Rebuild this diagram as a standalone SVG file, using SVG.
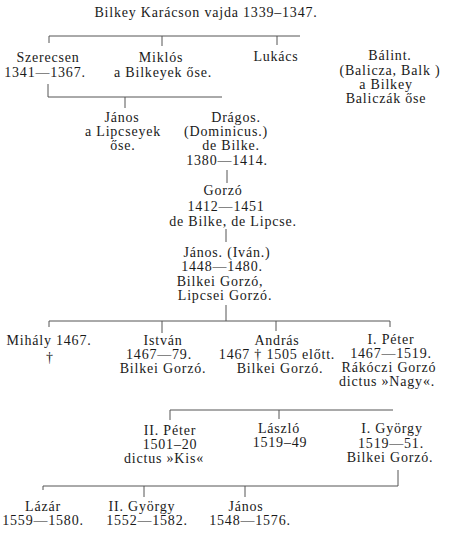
<svg xmlns="http://www.w3.org/2000/svg" width="453" height="538" viewBox="0 0 453 538">
<style>
text{font-family:"Liberation Serif","DejaVu Serif",serif;font-size:14px;letter-spacing:0.8px;fill:#1a1a1a;text-anchor:middle}
.c line{stroke:#555;stroke-width:1}
</style>
<rect width="453" height="538" fill="#fff"/>
<g class="c" id="connectors">
<line x1="49" y1="36" x2="300" y2="36"/>
<line x1="49" y1="36" x2="49" y2="43"/>
<line x1="162" y1="36" x2="162" y2="46"/>
<line x1="277" y1="36" x2="277" y2="45"/>
<line x1="48" y1="84" x2="48" y2="97"/>
<line x1="48" y1="97" x2="222" y2="97"/>
<line x1="125" y1="97" x2="125" y2="108"/>
<line x1="227" y1="170" x2="227" y2="183"/>
<line x1="226" y1="229" x2="226" y2="242"/>
<line x1="226" y1="305" x2="226" y2="321"/>
<line x1="49" y1="321" x2="390" y2="321"/>
<line x1="49" y1="321" x2="49" y2="327"/>
<line x1="162" y1="321" x2="162" y2="333"/>
<line x1="276" y1="321" x2="276" y2="331"/>
<line x1="390" y1="321" x2="390" y2="327"/>
<line x1="170" y1="410" x2="393" y2="410"/>
<line x1="170" y1="410" x2="170" y2="420"/>
<line x1="279" y1="410" x2="279" y2="419"/>
<line x1="398" y1="470" x2="398" y2="486"/>
<line x1="43" y1="486" x2="398" y2="486"/>
<line x1="43" y1="486" x2="43" y2="490"/>
<line x1="144" y1="486" x2="144" y2="497"/>
<line x1="245" y1="486" x2="245" y2="497"/>
</g>
<g id="karacson"><text x="206" y="17">Bilkey Karácson vajda 1339–1347.</text></g>
<g id="szerecsen"><text x="48" y="62">Szerecsen</text><text x="45" y="77">1341—1367.</text></g>
<g id="miklos"><text x="161" y="62">Miklós</text><text x="163" y="77">a Bilkeyek őse.</text></g>
<g id="lukacs"><text x="276" y="61">Lukács</text></g>
<g id="balint"><text x="390" y="60">Bálint.</text><text x="390" y="75">(Balicza, Balk )</text><text x="386" y="89">a Bilkey</text><text x="386" y="103">Baliczák őse</text></g>
<g id="janos1"><text x="122" y="122">János</text><text x="123" y="136">a Lipcseyek</text><text x="123" y="150">őse.</text></g>
<g id="dragos"><text x="236" y="122">Drágos.</text><text x="226" y="136">(Dominicus.)</text><text x="231" y="150">de Bilke.</text><text x="227" y="165">1380—1414.</text></g>
<g id="gorzo"><text x="223" y="195">Gorzó</text><text x="226" y="211">1412—1451</text><text x="233" y="226">de Bilke, de Lipcse.</text></g>
<g id="janos2"><text x="227" y="257">János. (Iván.)</text><text x="222" y="271">1448—1480.</text><text x="220" y="286">Bilkei Gorzó,</text><text x="225" y="300">Lipcsei Gorzó.</text></g>
<g id="mihaly"><text x="49" y="345">Mihály 1467.</text><text x="50" y="362" font-size="11">†</text></g>
<g id="istvan"><text x="163" y="345">István</text><text x="159" y="359">1467—79.</text><text x="163" y="373">Bilkei Gorzó.</text></g>
<g id="andras"><text x="277" y="345">András</text><text x="277" y="359">1467 † 1505 előtt.</text><text x="280" y="373">Bilkei Gorzó.</text></g>
<g id="peter1"><text x="391" y="344">I. Péter</text><text x="391" y="358">1467—1519.</text><text x="389" y="372">Rákóczi Gorzó</text><text x="387" y="386">dictus »Nagy«.</text></g>
<g id="peter2"><text x="170" y="435">II. Péter</text><text x="170" y="449">1501–20</text><text x="164" y="463">dictus »Kis«</text></g>
<g id="laszlo"><text x="279" y="433">László</text><text x="280" y="447">1519–49</text></g>
<g id="gyorgy1"><text x="392" y="433">I. György</text><text x="391" y="448">1519—51.</text><text x="390" y="462">Bilkei Gorzó.</text></g>
<g id="lazar"><text x="43" y="511">Lázár</text><text x="43" y="525">1559—1580.</text></g>
<g id="gyorgy2"><text x="142" y="511">II. György</text><text x="147" y="525">1552—1582.</text></g>
<g id="janos3"><text x="246" y="511">János</text><text x="250" y="525">1548—1576.</text></g>
</svg>
